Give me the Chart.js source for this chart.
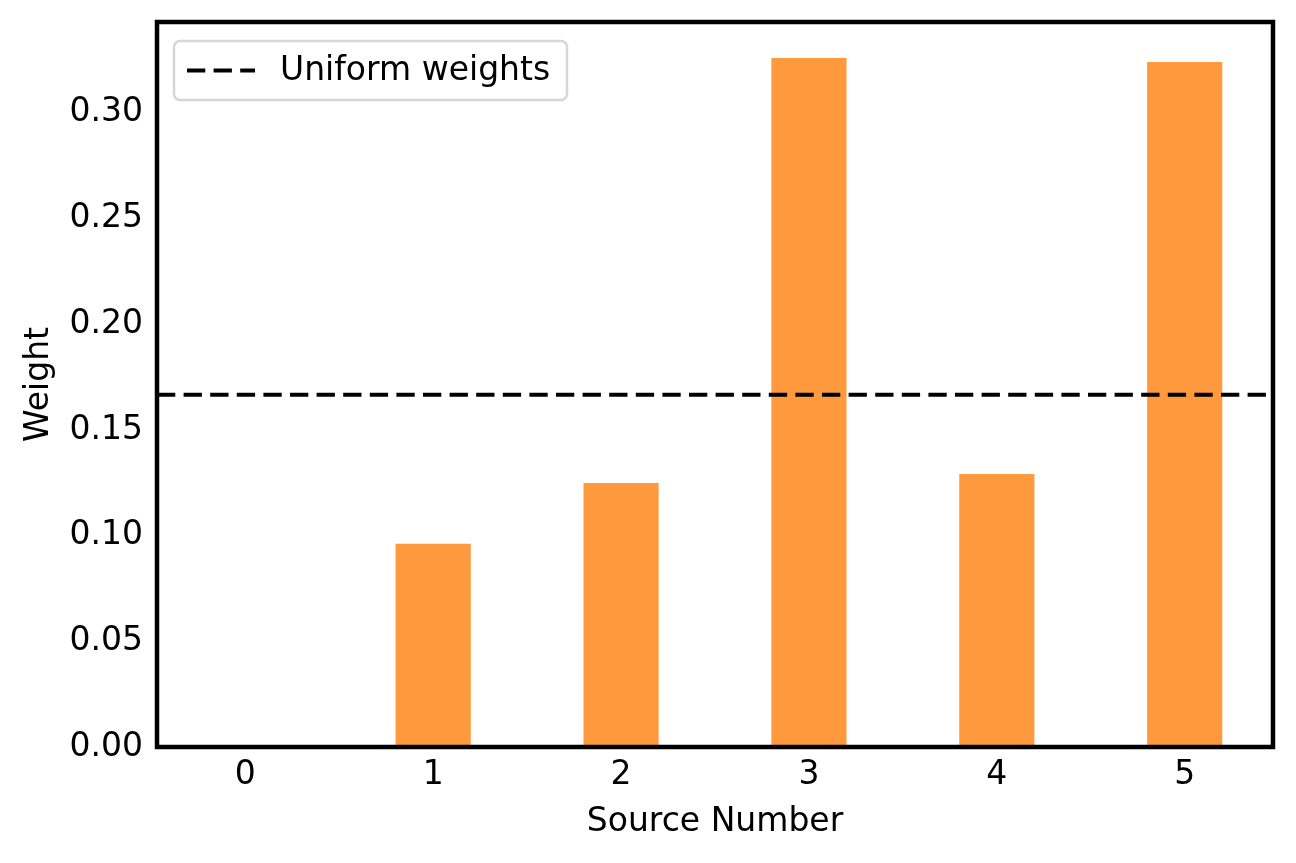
<!DOCTYPE html>
<html>
<head>
<meta charset="utf-8">
<script src="https://cdn.jsdelivr.net/npm/chart.js@4/dist/chart.umd.min.js"></script>
<style>
  html, body { margin: 0; padding: 0; background: #fff; }
  #wrap { width: 1296px; height: 863px; position: relative; }
</style>
</head>
<body>
<div id="wrap"><canvas id="chart"></canvas></div>
<script>
// data
const sources = [0, 1, 2, 3, 4, 5];
const weights = [0.0, 0.0961, 0.1249, 0.3260, 0.1292, 0.3241];
const uniform = 1 / 6;
const xRange = [-0.47, 5.47];
const yTicks = [0, 0.05, 0.10, 0.15, 0.20, 0.25, 0.30];
const yMax = 0.343;

const FONT = "'DejaVu Sans', sans-serif";
const FSIZE = 33;
Chart.defaults.font.family = FONT;
Chart.defaults.font.size = FSIZE;
Chart.defaults.color = '#000';

const DASH = [18.3, 8.3];

// frame + legend inside the plot, matplotlib style
const frameLegend = {
  id: 'frameLegend',
  afterDraw(chart) {
    const { ctx, chartArea: a } = chart;
    ctx.save();
    ctx.strokeStyle = '#000';
    ctx.lineWidth = 4.5;
    ctx.strokeRect(a.left, a.top, a.right - a.left, a.bottom - a.top);

    // legend box
    const bx = a.left + 17, by = a.top + 19, bw = 393, bh = 59;
    ctx.fillStyle = 'rgba(255,255,255,0.8)';
    ctx.strokeStyle = '#d6d6d6';
    ctx.lineWidth = 2.5;
    ctx.beginPath();
    ctx.roundRect(bx, by, bw, bh, 6);
    ctx.fill();
    ctx.stroke();

    const ly = by + bh / 2;
    ctx.strokeStyle = '#000';
    ctx.lineWidth = 4;
    ctx.setLineDash(DASH);
    ctx.beginPath();
    ctx.moveTo(bx + 13, ly);
    ctx.lineTo(bx + 81, ly);
    ctx.stroke();
    ctx.setLineDash([]);

    ctx.fillStyle = '#000';
    ctx.font = FSIZE + 'px ' + FONT;
    ctx.textBaseline = 'middle';
    ctx.fillText('Uniform weights', bx + 106, ly + 1);
    ctx.restore();
  }
};

new Chart(document.getElementById('chart'), {
  data: {
    datasets: [
      {
        type: 'bar',
        label: 'Weights',
        data: sources.map((s, i) => ({ x: s, y: weights[i] })),
        backgroundColor: 'rgba(255,127,14,0.8)',
        borderWidth: 0,
        categoryPercentage: 1.0,
        barPercentage: 0.4,
        order: 2
      },
      {
        type: 'line',
        label: 'Uniform weights',
        data: xRange.map(x => ({ x: x, y: uniform })),
        borderColor: '#000',
        borderWidth: 4,
        borderDash: DASH,
        pointRadius: 0,
        fill: false,
        order: 1
      }
    ]
  },
  plugins: [frameLegend],
  options: {
    responsive: true,
    maintainAspectRatio: false,
    animation: false,
    layout: { padding: { top: 22, right: 23, left: 0, bottom: 0 } },
    plugins: {
      legend: { display: false },
      tooltip: { enabled: false }
    },
    scales: {
      x: {
        type: 'linear',
        offset: false,
        min: xRange[0],
        max: xRange[1],
        grid: { display: false, drawTicks: false },
        border: { display: false },
        afterBuildTicks: (scale) => { scale.ticks = sources.map(v => ({ value: v })); },
        afterFit: (scale) => {
          scale.height = 863 - 747;
          scale.paddingLeft = 0;
          scale.paddingRight = 0;
        },
        ticks: { padding: 9, callback: v => String(v) },
        title: { display: true, text: 'Source Number', padding: { top: 0, bottom: 21 } }
      },
      y: {
        min: 0,
        max: yMax,
        grid: { display: false, drawTicks: false },
        border: { display: false },
        afterBuildTicks: (scale) => { scale.ticks = yTicks.map(v => ({ value: v })); },
        afterFit: (scale) => {
          scale.width = 157;
          scale.paddingTop = 0;
          scale.paddingBottom = 0;
        },
        ticks: { padding: 14, callback: v => v.toFixed(2) },
        title: { display: true, text: 'Weight', padding: { top: 20, bottom: 0 } }
      }
    }
  }
});
</script>
</body>
</html>
